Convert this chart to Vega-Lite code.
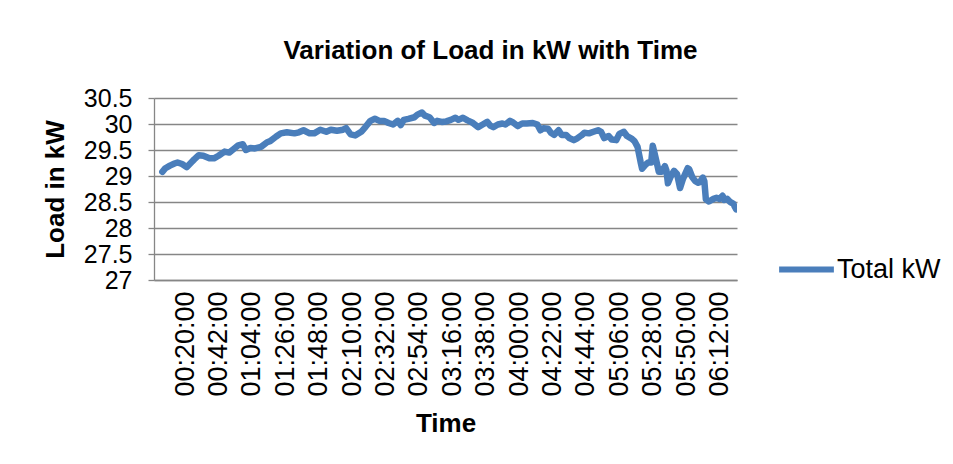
{
  "$schema": "https://vega.github.io/schema/vega-lite/v6.json",
  "width": 583,
  "height": 182,
  "autosize": {"type": "none"},
  "padding": {"left": 154, "top": 98, "right": 216, "bottom": 184},
  "background": "white",
  "config": {
    "font": "Liberation Sans",
    "view": {"stroke": null}
  },
  "title": {
    "text": "Variation of Load in kW with Time",
    "font": "Liberation Sans",
    "fontSize": 26,
    "fontWeight": "bold",
    "color": "#000000",
    "anchor": "middle",
    "dx": 45,
    "offset": 22
  },
  "data": {
    "values": [
      {"minute": 5, "kw": 29.08}, {"minute": 7, "kw": 29.15}, {"minute": 10, "kw": 29.2}, {"minute": 13, "kw": 29.24},
      {"minute": 15, "kw": 29.26}, {"minute": 18, "kw": 29.23}, {"minute": 21, "kw": 29.17}, {"minute": 24, "kw": 29.26},
      {"minute": 26, "kw": 29.32}, {"minute": 29, "kw": 29.4}, {"minute": 32, "kw": 29.39}, {"minute": 36, "kw": 29.34},
      {"minute": 39, "kw": 29.34}, {"minute": 42, "kw": 29.39}, {"minute": 46, "kw": 29.47}, {"minute": 49, "kw": 29.45},
      {"minute": 52, "kw": 29.52}, {"minute": 55, "kw": 29.59}, {"minute": 58, "kw": 29.61}, {"minute": 60, "kw": 29.5},
      {"minute": 63, "kw": 29.54}, {"minute": 66, "kw": 29.53}, {"minute": 70, "kw": 29.56}, {"minute": 74, "kw": 29.65},
      {"minute": 76, "kw": 29.67}, {"minute": 80, "kw": 29.76}, {"minute": 83, "kw": 29.82}, {"minute": 87, "kw": 29.84},
      {"minute": 92, "kw": 29.82}, {"minute": 95, "kw": 29.84}, {"minute": 98, "kw": 29.88}, {"minute": 102, "kw": 29.82},
      {"minute": 105, "kw": 29.82}, {"minute": 109, "kw": 29.89}, {"minute": 113, "kw": 29.85}, {"minute": 116, "kw": 29.89},
      {"minute": 120, "kw": 29.87}, {"minute": 124, "kw": 29.89}, {"minute": 126, "kw": 29.92}, {"minute": 129, "kw": 29.8},
      {"minute": 132, "kw": 29.78}, {"minute": 136, "kw": 29.85}, {"minute": 139, "kw": 29.95}, {"minute": 142, "kw": 30.06},
      {"minute": 145, "kw": 30.1}, {"minute": 148, "kw": 30.06}, {"minute": 151, "kw": 30.06}, {"minute": 154, "kw": 30.02},
      {"minute": 157, "kw": 29.99}, {"minute": 160, "kw": 30.06}, {"minute": 162, "kw": 29.98}, {"minute": 164, "kw": 30.08},
      {"minute": 167, "kw": 30.1}, {"minute": 171, "kw": 30.13}, {"minute": 173, "kw": 30.18}, {"minute": 176, "kw": 30.22},
      {"minute": 178, "kw": 30.16}, {"minute": 181, "kw": 30.13}, {"minute": 184, "kw": 30.02}, {"minute": 186, "kw": 30.06},
      {"minute": 189, "kw": 30.04}, {"minute": 192, "kw": 30.05}, {"minute": 195, "kw": 30.08}, {"minute": 198, "kw": 30.12},
      {"minute": 200, "kw": 30.08}, {"minute": 203, "kw": 30.12}, {"minute": 206, "kw": 30.07}, {"minute": 209, "kw": 30.03},
      {"minute": 213, "kw": 29.94}, {"minute": 216, "kw": 29.99}, {"minute": 219, "kw": 30.04}, {"minute": 221, "kw": 29.97},
      {"minute": 223, "kw": 29.94}, {"minute": 226, "kw": 29.99}, {"minute": 229, "kw": 30.01}, {"minute": 231, "kw": 29.99},
      {"minute": 234, "kw": 30.06}, {"minute": 236, "kw": 30.03}, {"minute": 239, "kw": 29.96}, {"minute": 242, "kw": 30.01},
      {"minute": 245, "kw": 30.01}, {"minute": 249, "kw": 30.02}, {"minute": 252, "kw": 29.99}, {"minute": 254, "kw": 29.88},
      {"minute": 256, "kw": 29.92}, {"minute": 259, "kw": 29.91}, {"minute": 261, "kw": 29.83}, {"minute": 263, "kw": 29.79},
      {"minute": 266, "kw": 29.88}, {"minute": 268, "kw": 29.79}, {"minute": 271, "kw": 29.79}, {"minute": 273, "kw": 29.73},
      {"minute": 276, "kw": 29.69}, {"minute": 278, "kw": 29.72}, {"minute": 281, "kw": 29.78}, {"minute": 283, "kw": 29.83},
      {"minute": 286, "kw": 29.82}, {"minute": 289, "kw": 29.85}, {"minute": 292, "kw": 29.88}, {"minute": 294, "kw": 29.85},
      {"minute": 296, "kw": 29.73}, {"minute": 299, "kw": 29.77}, {"minute": 301, "kw": 29.7}, {"minute": 304, "kw": 29.69},
      {"minute": 306, "kw": 29.81}, {"minute": 309, "kw": 29.85}, {"minute": 311, "kw": 29.77}, {"minute": 314, "kw": 29.72},
      {"minute": 316, "kw": 29.67}, {"minute": 318, "kw": 29.56}, {"minute": 320, "kw": 29.27}, {"minute": 321, "kw": 29.14},
      {"minute": 323, "kw": 29.21}, {"minute": 325, "kw": 29.26}, {"minute": 327, "kw": 29.26}, {"minute": 328, "kw": 29.58},
      {"minute": 329, "kw": 29.46}, {"minute": 331, "kw": 29.21}, {"minute": 332, "kw": 29.08}, {"minute": 334, "kw": 29.08},
      {"minute": 336, "kw": 29.19}, {"minute": 337, "kw": 29.11}, {"minute": 338, "kw": 28.86}, {"minute": 340, "kw": 29.0},
      {"minute": 342, "kw": 29.1}, {"minute": 344, "kw": 29.04}, {"minute": 346, "kw": 28.77}, {"minute": 348, "kw": 28.95},
      {"minute": 351, "kw": 29.15}, {"minute": 352, "kw": 29.13}, {"minute": 354, "kw": 28.98}, {"minute": 356, "kw": 28.9},
      {"minute": 358, "kw": 28.87}, {"minute": 359, "kw": 28.88}, {"minute": 361, "kw": 28.97}, {"minute": 362, "kw": 28.9},
      {"minute": 363, "kw": 28.55}, {"minute": 365, "kw": 28.51}, {"minute": 368, "kw": 28.56}, {"minute": 370, "kw": 28.58},
      {"minute": 372, "kw": 28.56}, {"minute": 374, "kw": 28.62}, {"minute": 375, "kw": 28.54}, {"minute": 377, "kw": 28.56},
      {"minute": 379, "kw": 28.5}, {"minute": 381, "kw": 28.47}, {"minute": 382, "kw": 28.41}, {"minute": 383, "kw": 28.36}
    ]
  },
  "transform": [{"calculate": "'Total kW'", "as": "series"}],
  "mark": {"type": "line", "strokeWidth": 6.5, "strokeCap": "round", "strokeJoin": "round", "clip": true},
  "encoding": {
    "x": {
      "field": "minute",
      "type": "quantitative",
      "scale": {"domain": [-0.5, 383.5], "nice": false, "zero": false},
      "axis": {
        "title": "Time",
        "titleFont": "Liberation Sans",
        "titleFontSize": 26,
        "titleFontWeight": "bold",
        "titleColor": "#000000",
        "titlePadding": 14,
        "values": [20, 42, 64, 86, 108, 130, 152, 174, 196, 218, 240, 262, 284, 306, 328, 350, 372],
        "labelExpr": "(floor(datum.value/60) < 10 ? '0' : '') + floor(datum.value/60) + ':' + (datum.value % 60 < 10 ? '0' : '') + (datum.value % 60) + ':00'",
        "labelAngle": 270,
        "labelAlign": "right",
        "labelBaseline": "middle",
        "labelFont": "Liberation Sans",
        "labelFontSize": 27,
        "labelColor": "#000000",
        "labelPadding": 11,
        "labelOverlap": false,
        "labelFlush": false,
        "ticks": false,
        "grid": false,
        "domainColor": "#868686",
        "domainWidth": 1.3
      }
    },
    "y": {
      "field": "kw",
      "type": "quantitative",
      "scale": {"domain": [27, 30.5], "nice": false, "zero": false},
      "axis": {
        "title": "Load in kW",
        "titleFont": "Liberation Sans",
        "titleFontSize": 26,
        "titleFontWeight": "bold",
        "titleColor": "#000000",
        "titlePadding": 15,
        "values": [27, 27.5, 28, 28.5, 29, 29.5, 30, 30.5],
        "labelExpr": "'' + datum.value",
        "labelFont": "Liberation Sans",
        "labelFontSize": 25,
        "labelColor": "#000000",
        "labelPadding": 16,
        "labelOverlap": false,
        "ticks": true,
        "tickSize": 6,
        "tickColor": "#868686",
        "tickWidth": 1.3,
        "grid": true,
        "gridColor": "#868686",
        "gridWidth": 1.3,
        "domainColor": "#868686",
        "domainWidth": 1.3
      }
    },
    "color": {
      "field": "series",
      "type": "nominal",
      "scale": {"range": ["#4A7EBB"]},
      "legend": {
        "title": null,
        "orient": "none",
        "legendX": 622,
        "legendY": 141,
        "symbolType": "stroke",
        "symbolSize": 3000,
        "symbolStrokeWidth": 6,
        "labelFont": "Liberation Sans",
        "labelFontSize": 27,
        "labelColor": "#000000",
        "labelOffset": 0
      }
    }
  }
}
